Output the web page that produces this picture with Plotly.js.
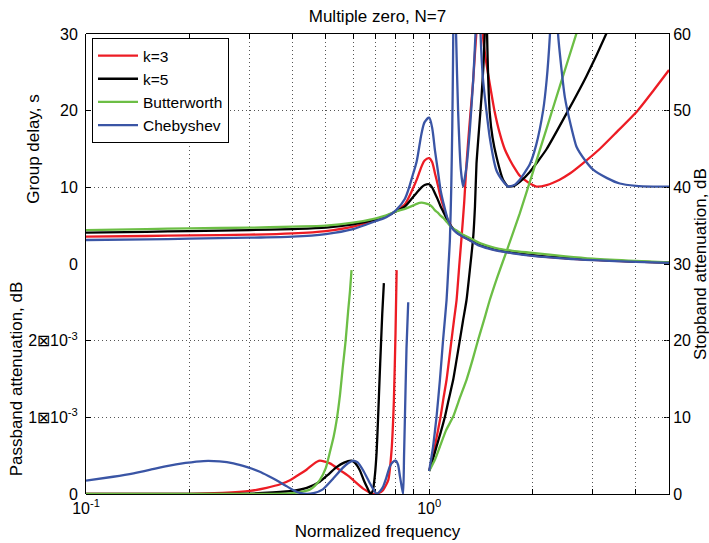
<!DOCTYPE html>
<html>
<head>
<meta charset="utf-8">
<script src="https://cdn.plot.ly/plotly-3.0.1.min.js"></script>
<style>html,body{margin:0;padding:0;background:#fff;}#chart{width:709px;height:543px;}</style>
</head>
<body>
<div id="chart"></div>
<script>
// ---------- data ----------
var seriesNames = ["k=3", "k=5", "Butterworth", "Chebyshev"];
var seriesColors = ["#ED1C24", "#000000", "#6CBE45", "#3A55A5"];

// Group delay, s (upper left axis)
var gdX = [0.1,0.15,0.2,0.3,0.4,0.5,0.6,0.7,0.75,0.8,0.85,0.9,0.92,0.95,0.97,1.0,1.02,1.04,1.06,1.08,1.1,1.13,1.16,1.2,1.25,1.3,1.4,1.5,1.6,1.75,2,2.5,3,4,5];
var gdRed   = [3.56,3.65,3.74,3.83,4.0,4.30,4.87,5.74,6.2,6.9,7.8,10.0,11.0,12.7,13.5,13.8,13.3,11.8,10.3,8.7,7.5,5.9,4.9,4.2,3.6,3.2,2.5,2.05,1.75,1.45,1.1,0.75,0.55,0.3,0.17];
var gdBlack = [4.08,4.2,4.30,4.43,4.56,4.74,5.17,5.83,6.25,6.85,7.5,8.8,9.3,10.0,10.3,10.4,10.0,9.2,8.4,7.5,6.8,5.7,4.9,4.2,3.65,3.25,2.55,2.1,1.8,1.48,1.15,0.78,0.57,0.32,0.18];
var gdGreen = [4.43,4.55,4.65,4.74,4.87,5.0,5.39,5.96,6.35,6.85,7.2,7.65,7.85,8.0,7.95,7.75,7.45,7.0,6.7,6.3,6.0,5.4,4.8,4.4,3.85,3.5,2.75,2.3,1.98,1.72,1.45,1.0,0.7,0.4,0.22];
var gdBlue  = [3.13,3.2,3.30,3.43,3.56,3.91,4.56,5.61,6.1,7.0,8.5,11.9,13.4,17.0,18.5,19.1,17.8,14.8,12.2,9.6,8.0,6.0,4.8,4.1,3.6,3.2,2.4,1.98,1.68,1.40,1.06,0.7,0.5,0.28,0.15];

// Passband attenuation, dB (lower left axis)
var pbRedX = [0.1,0.15,0.2,0.25,0.3,0.336,0.37,0.393,0.42,0.44,0.46,0.48,0.514,0.55,0.58,0.601,0.642,0.687,0.71,0.734,0.76,0.777,0.789,0.798,0.804];
var pbRed  = [0,0,2e-6,1.5e-5,4e-5,8e-5,1.3e-4,1.8e-4,2.6e-4,3.2e-4,3.9e-4,4.34e-4,4.0e-4,3.1e-4,2.4e-4,1.8e-4,7e-5,0,1e-5,5e-5,1.8e-4,5.7e-4,1.2e-3,2.1e-3,2.92e-3];
var pbBlackX = [0.1,0.2,0.25,0.3,0.35,0.4,0.44,0.48,0.51,0.537,0.565,0.594,0.61,0.628,0.645,0.657,0.667,0.675,0.685,0.695,0.703,0.71,0.717,0.723,0.73,0.738];
var pbBlack  = [0,0,1e-6,5e-6,2e-5,4e-5,8e-5,1.6e-4,2.6e-4,3.5e-4,4.1e-4,4.34e-4,4.0e-4,3.1e-4,1.8e-4,1e-4,4e-5,0,4e-5,2.5e-4,5.5e-4,1e-3,1.5e-3,1.9e-3,2.35e-3,2.75e-3];
var pbGreenX = [0.1,0.2,0.3,0.35,0.4,0.43,0.45,0.465,0.48,0.5,0.514,0.527,0.537,0.55,0.56,0.571,0.581,0.588,0.594];
var pbGreen  = [0,0,0,2e-6,1.2e-5,3.5e-5,6e-5,1.1e-4,1.8e-4,3.4e-4,5.5e-4,7.5e-4,9.5e-4,1.3e-3,1.65e-3,2.0e-3,2.4e-3,2.65e-3,2.92e-3];
var pbBlueX = [0.1,0.12,0.1376,0.155,0.172,0.195,0.22,0.245,0.269,0.295,0.321,0.34,0.359,0.38,0.402,0.42,0.44,0.46,0.49,0.525,0.56,0.58,0.601,0.62,0.642,0.672,0.69,0.703,0.72,0.734,0.75,0.768,0.785,0.80,0.812,0.822,0.832,0.840,0.845,0.850,0.859,0.869];
var pbBlue  = [1.74e-4,2.25e-4,2.7e-4,3.2e-4,3.65e-4,4.05e-4,4.3e-4,4.25e-4,4.0e-4,3.5e-4,2.9e-4,2.35e-4,1.8e-4,1.15e-4,5e-5,1.5e-5,0,1e-5,6e-5,2.0e-4,3.4e-4,4.0e-4,4.34e-4,4.1e-4,3.1e-4,1.4e-4,5e-5,0,4e-5,9.5e-5,2.1e-4,3.6e-4,4.2e-4,4.34e-4,3.8e-4,2.3e-4,9e-5,0,5e-4,1e-3,1.9e-3,2.5e-3];

// Stopband attenuation, dB (right axis)
var sbRedX = [1.0,1.02,1.039,1.06,1.08,1.1,1.124,1.143,1.162,1.18,1.202,1.225,1.243,1.265,1.285,1.31,1.33,1.344,1.36,1.374,1.39,1.405,1.421,1.44,1.47,1.502,1.55,1.607,1.66,1.718,1.78,1.837,1.95,2.055,2.2,2.4,2.57,2.8,3.14,3.5,4.05,4.5,5.0];
var sbRed  = [3.0,4.5,6.2,8.2,10.1,12.4,14.9,17.5,20.1,22.5,25.3,30.0,33.5,38.0,43.1,48.0,51.5,54.0,57.5,60.5,70,90,63,59,56,53.5,50.0,47.0,45.0,43.6,42.4,41.5,40.6,40.1,40.3,41.0,41.8,43.1,45.0,47.1,50.0,52.6,55.3];
var sbBlackX = [1.0,1.025,1.051,1.08,1.112,1.14,1.175,1.2,1.229,1.255,1.285,1.314,1.344,1.36,1.374,1.40,1.421,1.44,1.453,1.458,1.463,1.468,1.475,1.502,1.53,1.571,1.642,1.699,1.77,1.837,1.965,2.2,2.54,2.873,3.287,3.35];
var sbBlack  = [3.0,4.5,6.2,8.0,10.1,12.3,14.9,17.3,20.1,22.6,25.3,29.2,33.5,37.5,43.1,48.0,51.8,56.0,60.5,70,90,70,60,49.7,46.5,44.0,41.0,40.1,40.2,40.7,42.0,45.0,50.0,54.5,60.1,61];
var sbGreenX = [1.0,1.04,1.075,1.12,1.175,1.23,1.285,1.34,1.389,1.45,1.502,1.58,1.673,1.837,2.0,2.2,2.4,2.688,2.75];
var sbGreen  = [3.0,4.5,6.2,8.3,10.1,12.6,14.9,17.6,20.1,22.9,25.3,28.3,31.4,36.6,41.8,47.7,53.1,60.1,61.5];
var sbBlueX = [1.0,1.013,1.027,1.051,1.075,1.098,1.124,1.136,1.149,1.16,1.168,1.174,1.18,1.186,1.192,1.198,1.215,1.237,1.256,1.285,1.314,1.344,1.366,1.378,1.389,1.40,1.412,1.436,1.502,1.571,1.642,1.699,1.77,1.837,1.965,2.05,2.148,2.2,2.246,2.28,2.31,2.34,2.375,2.403,2.485,2.59,2.688,2.85,3.005,3.3,3.594,4.0,4.5,5.0];
var sbBlue  = [3.0,4.5,6.2,10.1,14.9,20.1,25.3,29.0,33.0,40.0,48.0,57.0,70,90,70,60,49.7,42.3,40.1,42.7,47.5,54.0,60.4,68,90,68,60,54.0,46.5,42.2,40.8,40.1,40.3,41.0,43.0,45.5,50.0,54.0,59.5,66,85,66,60,57.5,51.8,48.0,45.3,43.5,42.3,41.2,40.5,40.2,40.1,40.1];

var xTickVals = [0.1,0.2,0.3,0.4,0.5,0.6,0.7,0.8,0.9,1,2,3,4,5];
var xTickText = ["10<sup>-1</sup>","","","","","","","","","10<sup>0</sup>","","","",""];
var gdTickVals = [0,10,20,30];
var pbTickVals = [0,0.001,0.002];
var pbTickText = ["0","1\u22a010<sup>-3</sup>","2\u22a010<sup>-3</sup>"];
var sbTickVals = [0,10,20,30,40,50,60];

// ---------- traces ----------
var gdSets = [gdRed, gdBlack, gdGreen, gdBlue];
var pbSets = [[pbRedX,pbRed],[pbBlackX,pbBlack],[pbGreenX,pbGreen],[pbBlueX,pbBlue]];
var sbSets = [[sbRedX,sbRed],[sbBlackX,sbBlack],[sbGreenX,sbGreen],[sbBlueX,sbBlue]];
var LW = 2.3;
var traces = [];
for (var i = 0; i < 4; i++) {
  traces.push({x: gdX, y: gdSets[i], xaxis: 'x2', yaxis: 'y', type: 'scatter', mode: 'lines',
    name: seriesNames[i], legendgroup: 'g' + i, showlegend: true,
    line: {color: seriesColors[i], width: LW, shape: 'spline', smoothing: 0.8}, hoverinfo: 'skip'});
}
for (var i = 0; i < 4; i++) {
  traces.push({x: pbSets[i][0], y: pbSets[i][1], xaxis: 'x2', yaxis: 'y2', type: 'scatter', mode: 'lines',
    name: seriesNames[i], legendgroup: 'g' + i, showlegend: false,
    line: {color: seriesColors[i], width: LW, shape: 'spline', smoothing: 0.5}, hoverinfo: 'skip'});
}
for (var i = 0; i < 4; i++) {
  traces.push({x: sbSets[i][0], y: sbSets[i][1], xaxis: 'x', yaxis: 'y3', type: 'scatter', mode: 'lines',
    name: seriesNames[i], legendgroup: 'g' + i, showlegend: false,
    line: {color: seriesColors[i], width: LW, shape: 'spline', smoothing: 0.5}, hoverinfo: 'skip'});
}

var FONT = 'Liberation Sans, Arial, Helvetica, sans-serif';
var gridCol = '#555555';
var gridDash = '1px,3px';
var xr = [-1, Math.log10(5)];
var layout = {
  width: 709, height: 543,
  margin: {l: 86, r: 40, t: 34, b: 49, pad: 0},
  paper_bgcolor: '#ffffff', plot_bgcolor: 'rgba(0,0,0,0)',
  font: {family: FONT, size: 16, color: '#000'},
  showlegend: true,
  title: {text: 'Multiple zero, N=7', font: {family: FONT, size: 17, color: '#000'},
          x: 0.5, xref: 'paper', xanchor: 'center', y: 1 - 16/543, yref: 'container', yanchor: 'middle'},
  xaxis: {type: 'log', range: xr, domain: [0,1], anchor: 'y3', automargin: false,
    tickmode: 'array', tickvals: xTickVals, ticktext: xTickText, ticks: 'inside', ticklen: 5, tickcolor: '#000',
    showline: true, linecolor: '#000', linewidth: 1, mirror: 'ticks',
    showgrid: true, gridcolor: gridCol, griddash: gridDash, gridwidth: 1, zeroline: false,
    tickfont: {size: 16}, title: {text: 'Normalized frequency', font: {size: 17}, standoff: 8}},
  xaxis2: {type: 'log', range: xr, domain: [0,1], anchor: 'y', visible: false, showgrid: false, automargin: false},
  yaxis: {domain: [0.5, 1], range: [0, 30], anchor: 'x2', automargin: false,
    tickmode: 'array', tickvals: gdTickVals, ticks: 'inside', ticklen: 5, tickcolor: '#000',
    showline: true, linecolor: '#000', linewidth: 1, ticklabelstandoff: 4,
    showgrid: true, gridcolor: gridCol, griddash: gridDash, gridwidth: 1, zeroline: false,
    tickfont: {size: 16}, title: {text: 'Group delay, s', font: {size: 17}, standoff: 16}},
  yaxis2: {domain: [0, 0.5], range: [0, 0.003], anchor: 'x2', automargin: false,
    tickmode: 'array', tickvals: pbTickVals, ticktext: pbTickText, ticks: 'inside', ticklen: 5, tickcolor: '#000',
    showline: true, linecolor: '#000', linewidth: 1, ticklabelstandoff: 4,
    showgrid: true, gridcolor: gridCol, griddash: gridDash, gridwidth: 1, zeroline: false,
    tickfont: {size: 16}, title: {text: 'Passband attenuation, dB', font: {size: 17}}},
  yaxis3: {domain: [0, 1], range: [0, 60], anchor: 'x', side: 'right', automargin: false,
    tickmode: 'array', tickvals: sbTickVals, ticks: 'inside', ticklen: 5, tickcolor: '#000',
    showline: true, linecolor: '#000', linewidth: 1, showgrid: false, zeroline: false,
    tickfont: {size: 16}, title: {text: ''}},
  annotations: [{text: 'Stopband attenuation, dB', xref: 'paper', yref: 'paper',
    x: (700 - 86) / 583, y: 0.5, xanchor: 'center', yanchor: 'middle', textangle: -90,
    showarrow: false, font: {family: FONT, size: 17, color: '#000'}}],
  legend: {x: 0.0103, y: 0.9913, xanchor: 'left', yanchor: 'top', xref: 'paper', yref: 'paper',
    bgcolor: '#ffffff', bordercolor: '#000', borderwidth: 1, font: {family: FONT, size: 15.5, color: '#000'},
    tracegroupgap: 0, itemwidth: 40}
};

Plotly.newPlot('chart', traces, layout, {staticPlot: true, displayModeBar: false});
</script>
</body>
</html>
